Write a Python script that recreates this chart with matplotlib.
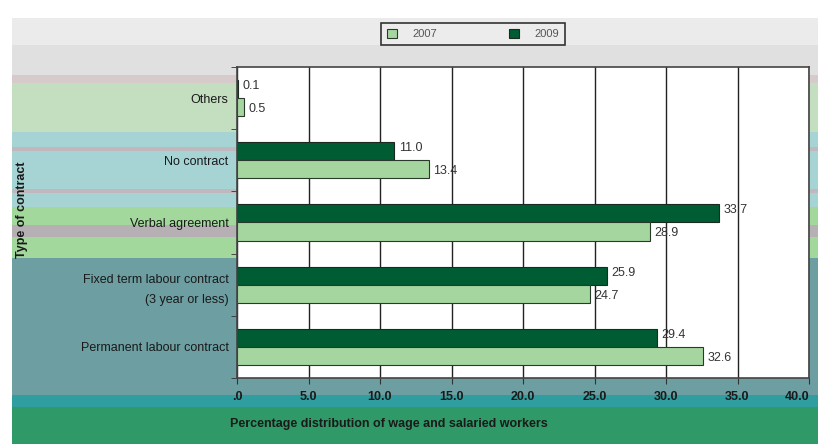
import numpy as np
import matplotlib
matplotlib.use("Agg")
import matplotlib.pyplot as plt

plt.rcParams['font.family'] = ['Liberation Sans Narrow', 'Liberation Sans', 'DejaVu Sans']

# Data (percent of wage and salaried workers)
categories = ["Permanent labour contract",
              "Fixed term labour contract\n(3 year or less)",
              "Verbal agreement",
              "No contract",
              "Others"]
values_2009 = [29.4, 25.9, 33.7, 11.0, 0.1]
values_2007 = [32.6, 24.7, 28.9, 13.4, 0.5]
labels_2009 = ["29.4", "25.9", "33.7", "11.0", "0.1"]
labels_2007 = ["32.6", "24.7", "28.9", "13.4", "0.5"]
x_ticks = [0, 5, 10, 15, 20, 25, 30, 35, 40]
x_tick_labels = [".0", "5.0", "10.0", "15.0", "20.0", "25.0", "30.0", "35.0", "40.0"]

dark_green = "#005c33"
light_green = "#a6d6a0"

fig = plt.figure(figsize=(8.18, 4.44), dpi=100)

# Decorative banded background (pixel coords)
bg = fig.add_axes([0, 0, 1, 1])
bg.set_xlim(0, 818)
bg.set_ylim(444, 0)
bg.axis('off')
bands = [(18, 45, "#ebebeb"), (45, 75, "#e0e0e0"), (75, 83, "#d6caca"),
         (83, 132, "#c3dfc0"), (132, 147, "#a6d3d3"), (147, 151, "#c0b8bc"),
         (151, 189, "#a6d3d3"), (189, 193, "#c0b8bc"), (193, 207, "#a6d3d3"),
         (207, 225, "#a3d89c"), (225, 237, "#b6b0b4"), (237, 258, "#a3d89c"),
         (258, 395, "#6c9ea2"), (395, 407, "#2e9ea0"), (407, 444, "#2f9a68")]
for y0, y1, c in bands:
    bg.fill_between([12, 818], y0, y1, color=c, lw=0)

ax = fig.add_axes([237 / 818, 1 - 378 / 444, (809 - 237) / 818, (378 - 67) / 444])
ax.set_facecolor("white")

y = np.arange(len(categories))
h = 0.29
b09 = ax.barh(y + h / 2, values_2009, height=h, color=dark_green,
              edgecolor="#1a2a20", linewidth=0.8, label="2009")
b07 = ax.barh(y - h / 2, values_2007, height=h, color=light_green,
              edgecolor="#2a3a2a", linewidth=0.8, label="2007")

for yi, v, t in zip(y, values_2009, labels_2009):
    ax.text(v + 0.3, yi + h / 2 + 0.05, t, va='center', ha='left', fontsize=9, color="#333333")
for yi, v, t in zip(y, values_2007, labels_2007):
    ax.text(v + 0.3, yi - h / 2 - 0.03, t, va='center', ha='left', fontsize=9, color="#333333")

ax.set_xlim(0, 40)
ax.set_ylim(-0.5, len(categories) - 0.5)
ax.set_xticks(x_ticks)
ax.set_xticklabels(x_tick_labels, fontsize=9, color="#1a1a1a", fontweight='bold')
# last label sits at the right edge of the image; keep it inside
ax.get_xticklabels()[-1].set_horizontalalignment('right')
ax.set_yticks(y)
ax.set_yticklabels(categories, fontsize=9, color="#1a1a1a", linespacing=1.9)
ax.set_yticks(np.arange(-0.5, len(categories)), minor=True)
ax.tick_params(axis='y', which='major', length=0, pad=6)
ax.tick_params(axis='y', which='minor', length=4, color="#333333")
ax.tick_params(axis='x', length=4, color="#333333", pad=5)
ax.xaxis.grid(True, color="#222222", linewidth=1.0)
ax.set_axisbelow(True)
for s in ax.spines.values():
    s.set_color("#444444")
    s.set_linewidth(1.2)

# Axis titles
fig.text(22 / 818, 1 - 210 / 444, "Type of contract", rotation=90, ha='center', va='center',
         fontsize=9, fontweight='bold', color="#1a1a1a")
fig.text(230 / 818, 1 - 424 / 444, "Percentage distribution of wage and salaried workers",
         ha='left', va='center', fontsize=9, fontweight='bold', color="#1a1a1a")

leg = ax.legend(handles=[b07, b09], labels=["2007", "2009"], ncol=2,
                loc='center', bbox_to_anchor=(473 / 818, 1 - 34 / 444),
                bbox_transform=fig.transFigure, fontsize=8, frameon=True,
                fancybox=False, edgecolor="#333333", facecolor="#ececec",
                handlelength=0.9, handleheight=0.9, columnspacing=6.5,
                handletextpad=1.4, borderpad=0.5, framealpha=1, labelcolor="#555555")
leg.get_frame().set_linewidth(1.2)

fig.savefig("out.png", dpi=100)
